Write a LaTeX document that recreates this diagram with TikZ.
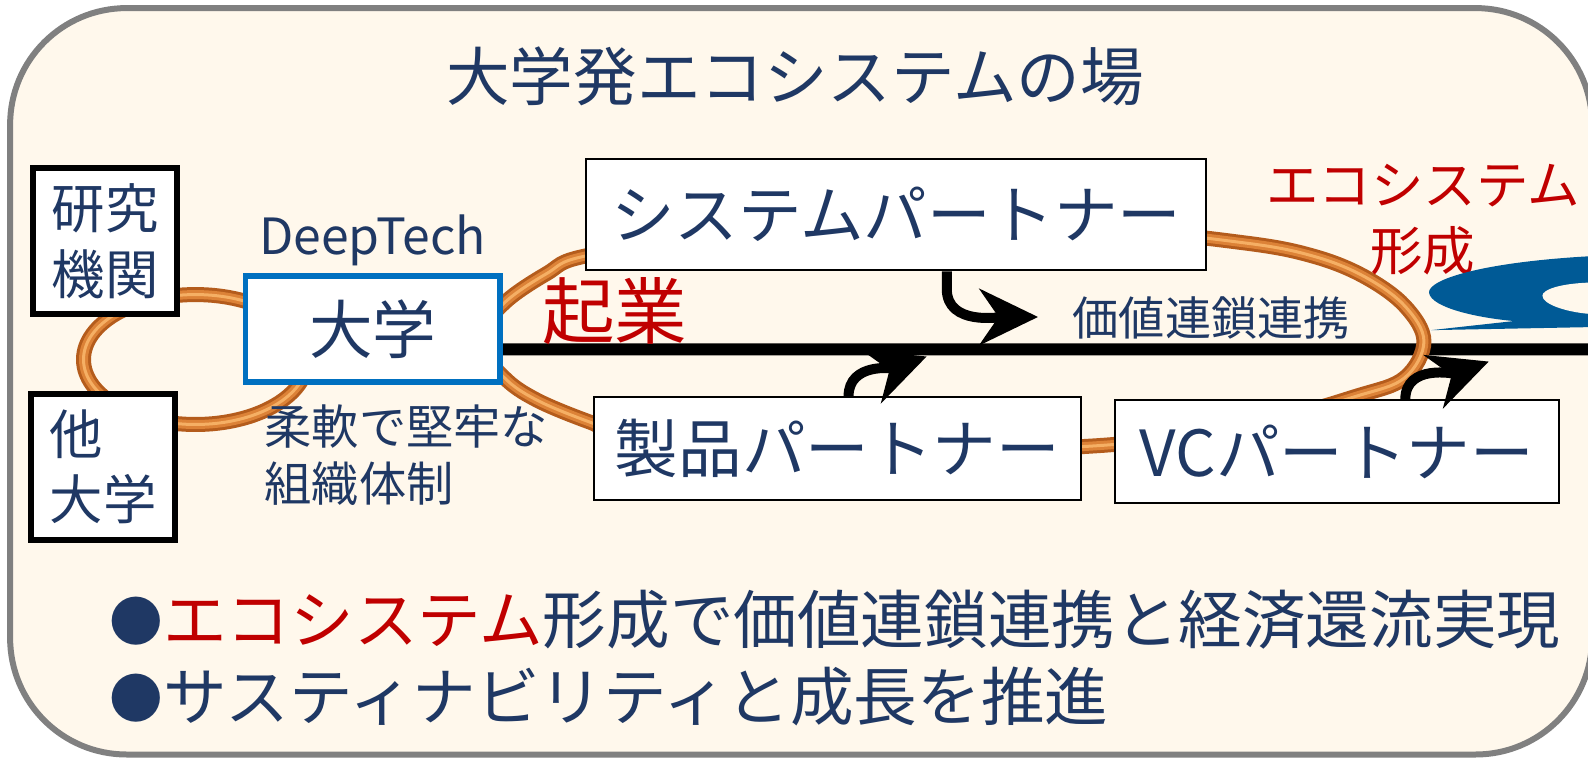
\documentclass[tikz,border=0pt]{standalone}
\usepackage{fontspec}
\setmainfont{Noto Sans CJK JP}
\usetikzlibrary{
    arrows.meta,
    positioning,
    calc
}
\definecolor{textblue}{RGB}{31,56,100}
\definecolor{ecored}{RGB}{192,0,0}
\definecolor{uniframe}{RGB}{0,112,192}
\definecolor{swooshblue}{RGB}{0,90,150}
\definecolor{cream}{RGB}{255,248,236}
\definecolor{framegray}{RGB}{128,128,128}
\definecolor{ringdark}{RGB}{180,92,28}
\definecolor{ringmid}{RGB}{220,130,55}
\definecolor{ringlight}{RGB}{245,175,100}
\newcommand{\fsize}[2]{\fontsize{#1pt}{#2pt}\selectfont}
\newcommand{\bulletdot}{{\fsize{30.5}{37}\raisebox{1.5pt}{●}}}
\pgfdeclarelayer{back}
\pgfdeclarelayer{wire}
\pgfsetlayers{back,wire,main}

\begin{document}
\begin{tikzpicture}[
        x=0.02026cm, y=-0.02026cm,
        label/.style={text=textblue, inner sep=0pt},
        org/.style={draw=black, line width=0.12cm, fill=white, text=textblue, align=left,
            font=\fsize{30.4}{37.3}, minimum width=2.88cm, minimum height=2.92cm, inner sep=0pt},
        partner/.style={draw=black, line width=0.04cm, fill=white, text=textblue,
            font=\fsize{36.2}{42.5}, minimum height=2.05cm, inner sep=0pt},
        copper/.style={draw=ringlight, line width=0.06cm,
            preaction={draw=ringdark, line width=0.3cm},
            preaction={draw=ringmid, line width=0.18cm}},
        flow/.style={line width=0.2cm, -{Stealth[length=1.17cm, width=1.12cm, inset=0.38cm]}}
    ]
        \useasboundingbox (0,0) rectangle (1568,751);

        % Frame
        \begin{pgfonlayer}{back}
            \draw[framegray, fill=cream, line width=0.12cm, rounded corners=2.33cm] (10,8) rectangle (1572,745);
        \end{pgfonlayer}

        % Title
        \node[label, font=\fsize{36.2}{42.5}] (title) at (785,75) {大学発エコシステムの場};

        % Rings
        \draw[copper] (193,355) ellipse [x radius=2.24cm, y radius=1.3cm];
        \draw[copper] plot[smooth cycle, tension=0.6] coordinates {
            (472,336) (497,300) (540,270) (577,253) (700,235) (900,228) (1100,228)
            (1230,240) (1297,253) (1347,273) (1387,302) (1406,337) (1387,373)
            (1340,391) (1250,415) (1085,440) (800,445) (620,428) (583,417) (530,395) (497,372)};

        % Research institutes and universities
        \node[org] (lab) at (104,238) {研究\\機関};
        \node[org] (other) at (102,461) {他\\大学};

        % University
        \node[draw=uniframe, line width=0.12cm, fill=white, text=textblue, font=\fsize{36.2}{42.5},
            minimum width=5.09cm, minimum height=2.11cm, inner sep=0pt] (uni) at (368,325) {大学};
        \node[label, font=\fsize{28.4}{34}, above=0.15cm of uni] (deep) {DeepTech};
        \node[label, align=left, anchor=north west, font=\fsize{26.9}{32.7}] (flex) at (261,399) {柔軟で堅牢な\\組織体制};
        \node[text=ecored, inner sep=0pt, font=\fsize{41.3}{48}] (kigyo) at (607,307) {起業};

        % Partners
        \node[partner, minimum width=12.4cm, minimum height=2.23cm] (sys) at (885,212) {システムパートナー};
        \node[partner, minimum width=9.75cm] (prod) at (827,443) {製品パートナー};
        \node[partner, minimum width=8.89cm] (vc) at (1320,446) {VCパートナー};

        % Value chain
        \coordinate (lineEnd) at (1570,345);
        \begin{pgfonlayer}{wire}
            \draw[line width=0.24cm] ([yshift=-0.405cm]uni.east) -- (lineEnd);
        \end{pgfonlayer}
        \node[label, font=\fsize{26.3}{31}] (chain) at (1196,314) {価値連鎖連携};

        % Partner arrows
        \coordinate (sysTip) at (1025,313);
        \coordinate (prodTip) at (915,352);
        \coordinate (vcTip) at (1470,357);
        \draw[flow] ([xshift=1.01cm]sys.south) -- ++(0,-0.35cm) to[out=-90, in=180] (sysTip);
        \draw[flow] ([xshift=0.22cm]prod.north) to[out=90, in=200] (prodTip);
        \draw[flow] ([xshift=1.37cm]vc.north) to[out=90, in=200] (vcTip);

        % Ecosystem swoosh
        \node[text=ecored, inner sep=0pt, align=center, font=\fsize{29.9}{37.3}] (eco) at (1405,217) {エコシステム\\形成};
        \fill[swooshblue] (1570,253) .. controls (1463,259) and (1410,276) .. (1411,289)
            .. controls (1413,304) and (1460,314) .. (1495,317) -- (1413,326) -- (1570,323) -- cycle;
        \fill[cream] (1570,279) .. controls (1540,280) and (1523,286) .. (1523,292)
            .. controls (1523,300) and (1545,308) .. (1570,310) -- cycle;

        % Summary
        \node[label, anchor=west, font=\fsize{36.2}{42.5}] (point1) at (108,612)
            {\bulletdot\textcolor{ecored}{エコシステム}形成で価値連鎖連携と経済還流実現};
        \node[label, anchor=west, font=\fsize{36.2}{42.5}] (point2) at (108,688)
            {\bulletdot サスティナビリティと成長を推進};
    \end{tikzpicture}
\end{document}
